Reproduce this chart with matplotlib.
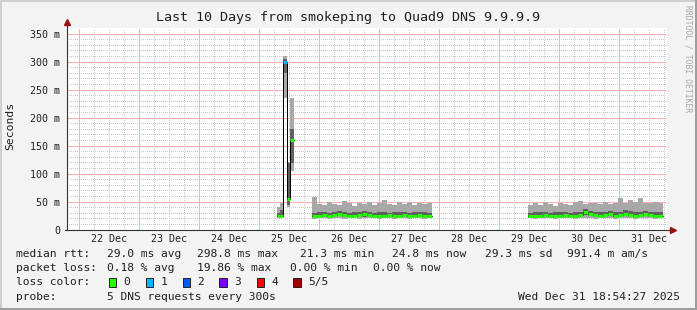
import matplotlib
matplotlib.use('Agg')

import matplotlib.pyplot as plt
from matplotlib.patches import Rectangle
import numpy as np

W, H = 697, 310
MONO = 'DejaVu Sans Mono'

title = 'Last 10 Days from smokeping to Quad9 DNS 9.9.9.9'
day_ticks = [22, 23, 24, 25, 26, 27, 28, 29, 30, 31]
day_labels = ['22 Dec', '23 Dec', '24 Dec', '25 Dec', '26 Dec',
              '27 Dec', '28 Dec', '29 Dec', '30 Dec', '31 Dec']
y_ticks = [0, 50, 100, 150, 200, 250, 300, 350]
y_labels = ['0', '50 m', '100 m', '150 m', '200 m', '250 m', '300 m', '350 m']

loss_colors = ['#26ff00', '#00b8ff', '#0059ff', '#7e00ff', '#ff0000', '#a10000']
loss_names = ['0', '1', '2', '3', '4', '5/5']

# rtt in ms, 5 pings per step: min, 2nd, median, 4th, max
spike_start, spike_step = 25.2997, 0.0567
spike_min = [20, 20, 235, 40, 105]
spike_lo = [22, 22, 280, 43, 118]
spike_med = [25, 25, 300, 54, 160]
spike_hi = [30, 34, 305, 118, 180]
spike_max = [40, 48, 310, 120, 235]
spike_loss = [0, 0, 1, 0, 0]

seg2_start, seg2_step = 25.891, 1 / 12
seg2_min = [19, 20, 21, 19, 20, 20, 19, 21, 20, 19, 20, 21, 20, 19, 20, 21, 19, 20, 20, 19, 21, 20, 19, 20]
seg2_lo = [22, 23, 23, 22, 23, 24, 22, 23, 23, 22, 23, 24, 23, 22, 23, 23, 22, 23, 24, 22, 23, 23, 22, 23]
seg2_med = [24, 25, 26, 25, 26, 27, 26, 25, 25, 26, 27, 26, 25, 24, 25, 26, 25, 24, 26, 25, 24, 26, 25, 24]
seg2_hi = [30, 31, 32, 30, 31, 33, 31, 30, 31, 32, 33, 31, 30, 31, 32, 30, 31, 32, 31, 30, 31, 32, 31, 30]
seg2_max = [58, 46, 44, 49, 45, 43, 51, 47, 42, 48, 45, 50, 44, 47, 52, 45, 43, 49, 46, 50, 44, 47, 45, 48]

seg3_start, seg3_step = 29.491, 1 / 12
seg3_min = [20, 19, 20, 21, 20, 19, 20, 20, 21, 19, 20, 21, 20, 19, 20, 21, 20, 19, 20, 21, 20, 19, 20, 21, 20, 19, 20]
seg3_lo = [22, 22, 23, 23, 22, 22, 23, 23, 23, 22, 23, 26, 24, 23, 22, 23, 24, 22, 23, 24, 23, 22, 23, 24, 23, 22, 23]
seg3_med = [24, 25, 25, 26, 25, 24, 25, 26, 25, 24, 26, 32, 27, 26, 25, 26, 27, 25, 26, 28, 26, 25, 26, 27, 26, 25, 25]
seg3_hi = [30, 31, 31, 32, 30, 31, 32, 31, 30, 31, 32, 36, 33, 32, 31, 32, 33, 31, 32, 34, 33, 31, 32, 33, 32, 31, 31]
seg3_max = [44, 47, 43, 50, 46, 42, 48, 45, 44, 49, 51, 46, 48, 47, 45, 50, 46, 48, 57, 47, 52, 49, 56, 48, 47, 50, 47]

rtt_row = ['median rtt:', '29.0 ms avg', '298.8 ms max', '21.3 ms min', '24.8 ms now', '29.3 ms sd', '991.4 m am/s']
loss_row = ['packet loss:', '0.18 % avg', '19.86 % max', '0.00 % min', '0.00 % now']
probe_text = '5 DNS requests every 300s'
stamp = 'Wed Dec 31 18:54:27 2025'

x0, x1 = 21.808, 31.808
ymax = 360

fig = plt.figure(figsize=(W / 100, H / 100), dpi=100, facecolor='#f3f3f3')
ax = fig.add_axes([67 / W, 80.5 / H, 600 / W, 201.5 / H], facecolor='white')
ax.set_xlim(x0, x1)
ax.set_ylim(0, ymax)
for s in ax.spines.values():
    s.set_visible(False)

# grid: minor every 6h / 10 ms, major every day / 50 ms
minor_kw = dict(lw=0.72, linestyle=(0, (1, 2)), zorder=1, antialiased=False, color='#c8c8c8')
major_kw = dict(lw=0.72, linestyle=(0, (1, 1)), zorder=1, antialiased=False, color='#ffb0b0')
for h in np.arange(np.ceil(x0 * 4) / 4, x1, 0.25):
    major = abs(h - round(h)) < 1e-6
    ax.axvline(h, **(major_kw if major else minor_kw))
for v in range(10, ymax, 10):
    ax.axhline(v, **(major_kw if v % 50 == 0 else minor_kw))


def draw(start, step, mn, lo, med, hi, mx, loss):
    t = start + step * np.arange(len(med))
    mn, lo, med, hi, mx = map(np.array, (mn, lo, med, hi, mx))
    ax.bar(t, mx - mn, bottom=mn, width=step, align='edge', color='#a8a8a8', lw=0, zorder=2)
    ax.bar(t, hi - lo, bottom=lo, width=step, align='edge', color='#606060', lw=0, zorder=3)
    ax.step(np.r_[t, t[-1] + step], np.r_[med, med[-1]], where='post',
            color='black', lw=0.72, zorder=4, antialiased=False)
    ax.hlines(med, t, t + step, colors=[loss_colors[l] for l in loss], lw=2.2, zorder=5)


draw(spike_start, spike_step, spike_min, spike_lo, spike_med, spike_hi, spike_max, spike_loss)
draw(seg2_start, seg2_step, seg2_min, seg2_lo, seg2_med, seg2_hi, seg2_max, [0] * len(seg2_med))
draw(seg3_start, seg3_step, seg3_min, seg3_lo, seg3_med, seg3_hi, seg3_max, [0] * len(seg3_med))

# axes with arrows
ax.plot([0, 0], [0, 1.025], transform=ax.transAxes, color='#303030', lw=0.8, clip_on=False, zorder=6)
ax.plot([-0.004, 1.008], [0, 0], transform=ax.transAxes, color='#303030', lw=0.8, clip_on=False, zorder=6)
ax.plot([0], [1.03], transform=ax.transAxes, marker='^', ms=5, color='#9a1010', clip_on=False, zorder=7)
ax.plot([1.01], [0], transform=ax.transAxes, marker='>', ms=5, color='#9a1010', clip_on=False, zorder=7)

ax.set_xticks([d + 0.5 for d in day_ticks])
ax.set_xticklabels(day_labels, fontfamily=MONO, fontsize=7.2)
ax.set_yticks(y_ticks)
ax.set_yticklabels(y_labels, fontfamily=MONO, fontsize=7.2)
ax.tick_params(axis='both', length=0, colors='#202020')
ax.tick_params(axis='y', pad=5)
ax.tick_params(axis='x', pad=3)

fig.text(348 / W, 1 - 18 / H, title, ha='center', va='center', fontfamily=MONO, fontsize=9.6, color='#202020')
fig.text(10 / W, 1 - 126 / H, 'Seconds', rotation=90, ha='center', va='center', fontfamily=MONO, fontsize=8.2, color='#202020')
fig.text(688 / W, 1 - 5 / H, 'RRDTOOL / TOBI OETIKER', rotation=-90, ha='center', va='top', fontfamily=MONO, fontsize=5.8, color='#a8a8a8')

row_y = [254.3, 268.3, 282.3, 296.7]
txt = dict(va='center', fontfamily=MONO, fontsize=8.1, color='#202020')
for x, s in zip([16, 107.3, 197, 300, 392, 485.3, 567], rtt_row):
    fig.text(x / W, 1 - row_y[0] / H, s, **txt)
for x, s in zip([16, 107.3, 197, 290, 373], loss_row):
    fig.text(x / W, 1 - row_y[1] / H, s, **txt)

fig.text(16 / W, 1 - row_y[2] / H, 'loss color:', **txt)
box_x = [108.7, 146, 182.7, 219.3, 256.7, 293.3]
for bx, c, name in zip(box_x, loss_colors, loss_names):
    fig.add_artist(Rectangle((bx / W, 1 - 286.8 / H), 7.2 / W, 9 / H, transform=fig.transFigure,
                             facecolor=c, edgecolor='#202020', lw=0.7))
    fig.text((bx + 14.7) / W, 1 - row_y[2] / H, name, **txt)

fig.text(16 / W, 1 - row_y[3] / H, 'probe:', **txt)
fig.text(107.3 / W, 1 - row_y[3] / H, probe_text, **txt)
fig.text(680.3 / W, 1 - row_y[3] / H, stamp, ha='right', **txt)

# shaded frame
fig.add_artist(Rectangle((0, 1 - 2 / H), 1, 2 / H, transform=fig.transFigure, color='#cfcfcf', lw=0))
fig.add_artist(Rectangle((0, 0), 2 / W, 1, transform=fig.transFigure, color='#cfcfcf', lw=0))
fig.add_artist(Rectangle((0, 0), 1, 2 / H, transform=fig.transFigure, color='#9e9e9e', lw=0))
fig.add_artist(Rectangle((1 - 2 / W, 0), 2 / W, 1, transform=fig.transFigure, color='#9e9e9e', lw=0))

fig.savefig('out.png', dpi=100, facecolor=fig.get_facecolor())
